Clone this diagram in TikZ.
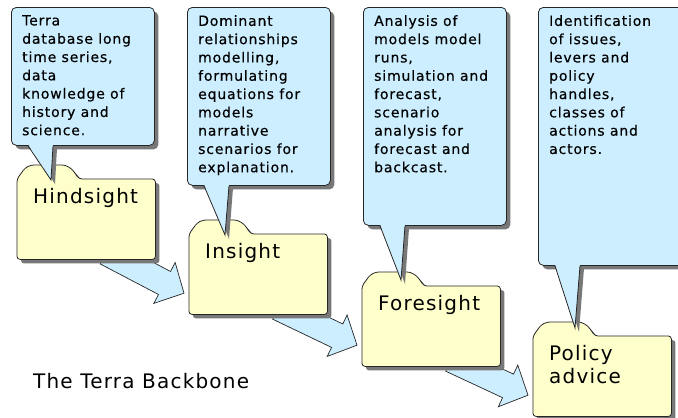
\documentclass[tikz,border=0pt]{standalone}
\usepackage{fontspec}
\setmainfont{DejaVu Sans}[LetterSpace=6]
\newfontfamily\bubblefont{DejaVu Sans}[LetterSpace=6, FakeBold=0.35]
\usetikzlibrary{positioning,calc,shadows}

\definecolor{bubbleblue}{RGB}{204,238,255}
\definecolor{folderyellow}{RGB}{255,255,204}
\definecolor{shadowgray}{RGB}{120,120,120}

\tikzset{
  grayshadow/.style={drop shadow={shadow xshift=4pt, shadow yshift=-4pt, fill=shadowgray, opacity=1}},
  bubble/.style={rectangle, draw=black!85, fill=bubbleblue, line width=0.8pt, rounded corners=5pt,
    minimum width=143pt, inner sep=0pt, anchor=north west, grayshadow},
  bubbletext/.style={align=left, inner sep=0pt, anchor=north west, font=\bubblefont\fontsize{14}{18.3}\selectfont},
  tail/.style={fill=bubbleblue, grayshadow},
  tailline/.style={draw=black!85, line width=0.8pt},
  foldbox/.style={rectangle, minimum width=138pt, minimum height=80pt, inner sep=0pt, anchor=north west},
  folder/.style={draw=black!85, fill=folderyellow, line width=0.8pt, rounded corners=3pt, grayshadow},
  foldtext/.style={align=left, inner sep=0pt, anchor=north west, font=\fontsize{20}{23}\selectfont},
  flow/.style={draw=black!85, fill=bubbleblue, line width=0.7pt}
}

\begin{document}
\begin{tikzpicture}[x=1pt, y=-1pt]
        \useasboundingbox (0,0) rectangle (678,418);

        % Folders (geometry only, outlines come later)
        \node[foldbox] (hind) at (17,179) {};
        \node[foldbox] (insight) at (189,234) {};
        \node[foldbox] (foresight) at (362,286) {};
        \node[foldbox] (policy) at (533,336) {};

        % Block arrows between the folders
        \foreach \a/\b in {hind/insight, insight/foresight, foresight/policy} {
            \coordinate (s) at ($(\a.south)+(20,-7)$);
            \coordinate (t) at ($(\b.west)+(-5,19)$);
            \coordinate (h) at ($(t)!22pt!(s)$);
            \draw[flow] ($(s)!13pt!90:(t)$) -- ($(h)!13pt!90:(t)$) -- ($(h)!23pt!90:(t)$)
                -- (t) -- ($(h)!23pt!-90:(t)$) -- ($(h)!13pt!-90:(t)$) -- ($(s)!13pt!-90:(t)$) -- cycle;
        }

        % Folder outlines with tab
        \foreach \f in {hind, insight, foresight, policy}
            \draw[folder] (\f.south west) -- (\f.north west)
                -- ($(\f.north west)+(8,-11)$) -- ($(\f.north west)+(14,-14)$)
                -- ($(\f.north west)+(48,-14)$) -- ($(\f.north west)+(55,-10)$)
                -- ($(\f.north west)+(62,0)$) -- (\f.north east) -- (\f.south east) -- cycle;

        \node[foldtext, below right=9pt and 16pt of hind.north west] (hindLabel) {Hindsight};
        \node[foldtext, below right=9pt and 16pt of insight.north west] (insightLabel) {Insight};
        \node[foldtext, below right=9pt and 16pt of foresight.north west] (foresightLabel) {Foresight};
        \node[foldtext, below right=9pt and 16pt of policy.north west] (policyLabel) {Policy\\advice};

        % Callouts
        \node[bubble, minimum height=138pt] (cHind) at (11,7) {};
        \node[bubbletext, below right=8pt and 11pt of cHind.north west] (tHind)
            {Terra\\database long\\time series,\\data\\knowledge of\\history and\\science.};
        \node[bubble, minimum height=178pt] (cIns) at (187,7) {};
        \node[bubbletext, below right=8pt and 11pt of cIns.north west] (tIns)
            {Dominant\\relationships\\modelling,\\formulating\\equations for\\models\\narrative\\scenarios for\\explanation.};
        \node[bubble, minimum height=218pt] (cFore) at (363,7) {};
        \node[bubbletext, below right=8pt and 11pt of cFore.north west] (tFore)
            {Analysis of\\models model\\runs,\\simulation and\\forecast,\\scenario\\analysis for\\forecast and\\backcast.};
        \node[bubble, minimum height=258pt, minimum width=150pt] (cPol) at (538,7) {};
        \node[bubbletext, below right=8pt and 11pt of cPol.north west] (tPol)
            {Identification\\of issues,\\levers and\\policy\\handles,\\classes of\\actions and\\actors.};

        % Callout tails pointing into the folder tabs
        \foreach \c/\f/\dx/\dy in {cHind/hind/34/1, cIns/insight/36/1, cFore/foresight/39/-6, cPol/policy/42/-8} {
            \fill[tail] ($(\c.south west)+(17,-1.5)$) -- ($(\f.north west)+(\dx,\dy)$) -- ($(\c.south west)+(42,-1.5)$) -- cycle;
            \draw[tailline] ($(\c.south west)+(17,0)$) -- ($(\f.north west)+(\dx,\dy)$) -- ($(\c.south west)+(42,0)$);
        }

        \node[anchor=base west, inner sep=0pt, font=\fontsize{20}{23}\selectfont] (title) at (33,388) {The Terra Backbone};
\end{tikzpicture}
\end{document}
